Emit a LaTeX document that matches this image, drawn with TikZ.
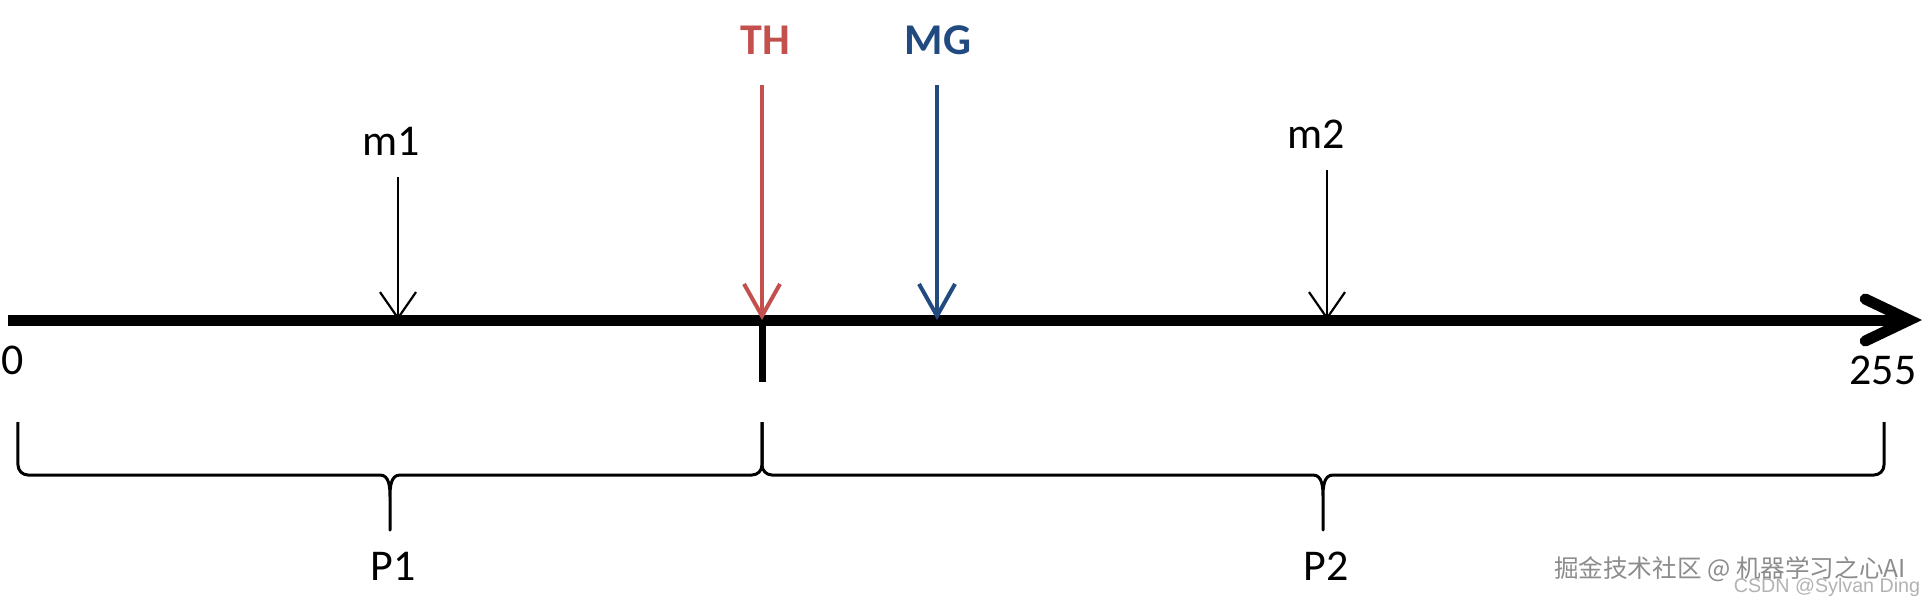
\documentclass[tikz,border=0pt]{standalone}
\usepackage{fontspec}
\setmainfont{Carlito}
\newfontfamily\cjk{Noto Sans CJK SC}
\newfontfamily\wmsans{Liberation Sans}
\usetikzlibrary{arrows.meta}
\definecolor{thred}{RGB}{196,80,77}
\definecolor{mgblue}{RGB}{33,75,128}

\begin{document}
\begin{tikzpicture}[
axis/.style={line width=0.11cm, -{Straight Barb[length=4.4mm,width=4.2mm,line cap=round]}},
mpt/.style={line width=0.022cm, -{Straight Barb[length=2.6mm,width=3.6mm]}},
thr/.style={draw=thred, line width=0.04cm, -{Straight Barb[length=3.2mm,width=3.6mm]}},
mgr/.style={draw=mgblue, line width=0.04cm, -{Straight Barb[length=3.2mm,width=3.6mm]}},
lbl/.style={font=\fontsize{12.5}{15}\selectfont},
hdr/.style={font=\fontsize{12.5}{15}\selectfont\bfseries},
brc/.style={line width=0.03cm, line join=round}]
\useasboundingbox (0,0) rectangle (19.28,6.02);
\coordinate (o) at (0.08,2.82);
\coordinate (e) at (19.22,2.82);
\draw[axis] (o) -- (e);
\node[lbl] (zero) at (0.13,2.42) {0};
\node[lbl] (max) at (18.83,2.32) {255};
\foreach \x/\y/\d/\n in {3.98/4.25/0.07/m1, 13.27/4.32/0.11/m2} {
    \coordinate (\n top) at (\x,\y);
    \coordinate (\n pt) at (\x,2.82);
    \draw[mpt] (\n top) -- (\n pt);
    \node[lbl] (\n) at (\x-\d,\y+0.36) {\n};
}
\coordinate (thtop) at (7.62,5.17);
\coordinate (th) at (7.62,2.82);
\coordinate (thlow) at (7.62,2.20);
\draw[thr] (thtop) -- (th);
\draw[line width=0.07cm] (th) -- (thlow);
\node[hdr, text=thred] (TH) at (7.65,5.62) {TH};
\coordinate (mgtop) at (9.37,5.17);
\coordinate (mg) at (9.37,2.82);
\draw[mgr] (mgtop) -- (mg);
\node[hdr, text=mgblue] (MG) at (9.38,5.62) {MG};
\foreach \a/\b/\n in {0.18/7.62/P1, 7.62/18.84/P2} {
    \pgfmathsetmacro\c{(\a+\b)/2}
    \draw[brc] (\a,1.80) -- (\a,1.37) to[out=-90,in=180] (\a+0.1,1.27)
        -- (\c-0.1,1.27) to[out=0,in=90] (\c,1.05) -- (\c,0.72)
        -- (\c,1.05) to[out=90,in=180] (\c+0.1,1.27)
        -- (\b-0.1,1.27) to[out=0,in=-90] (\b,1.37) -- (\b,1.80);
    \node[lbl] (\n) at (\c+0.03,0.36) {\n};
}
\node[font=\cjk\fontsize{7}{8}\selectfont, text=black!45] (wm) at (17.30,0.33) {掘金技术社区 @ 机器学习之心AI};
\node[font=\wmsans\fontsize{5.6}{7}\selectfont, text=black!30] (csdn) at (18.27,0.15) {CSDN @Sylvan Ding};
\end{tikzpicture}
\end{document}
